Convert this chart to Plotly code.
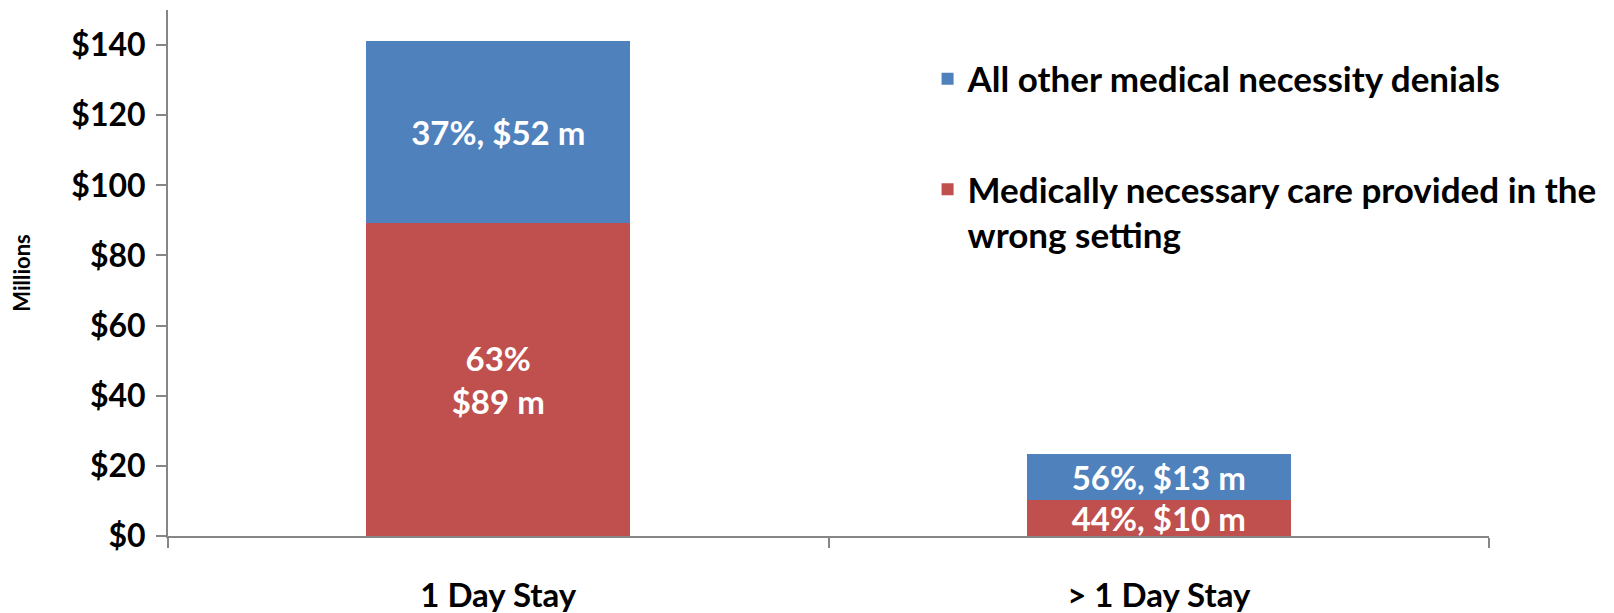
import plotly.graph_objects as go

# Denied claim dollars (millions) by length of stay
categories = ["1 Day Stay", "> 1 Day Stay"]
wrong_setting = [89.3, 10.4]
other_denials = [51.8, 12.9]
wrong_setting_labels = ["63%<br>$89 m", "44%, $10 m"]
other_denials_labels = ["37%, $52 m", "56%, $13 m"]
y_ticks = [0, 20, 40, 60, 80, 100, 120, 140]
y_tick_labels = ["$0", "$20", "$40", "$60", "$80", "$100", "$120", "$140"]

FONT = "Lato"
AXIS_GRAY = "#868686"

fig = go.Figure()

fig.add_trace(go.Bar(
    x=categories,
    y=wrong_setting,
    name="Medically necessary care provided in the<br>wrong setting",
    legendgroup="red",
    legendrank=2,
    marker=dict(color="#C0504D", line=dict(width=0)),
    text=wrong_setting_labels,
    textposition="inside",
    insidetextanchor="middle",
    textangle=0,
    constraintext="none",
    textfont=dict(color="white", size=33, family=FONT, weight="bold"),
    width=0.4,
))

fig.add_trace(go.Bar(
    x=categories,
    y=other_denials,
    name="All other medical necessity denials",
    legendgroup="blue",
    legendrank=1,
    marker=dict(color="#4F81BD", line=dict(width=0)),
    text=other_denials_labels,
    textposition="inside",
    insidetextanchor="middle",
    textangle=0,
    constraintext="none",
    textfont=dict(color="white", size=33, family=FONT, weight="bold"),
    width=0.4,
))

# the page body adds an 8px offset, so the figure is 8px smaller than the window
fig.update_layout(
    barmode="stack",
    width=1606,
    height=605,
    margin=dict(l=160, r=125, t=2, b=77),
    plot_bgcolor="white",
    paper_bgcolor="white",
    font=dict(family=FONT, color="black", weight="bold"),
    showlegend=True,
    legend=dict(
        x=0.575, y=0.925, xanchor="left", yanchor="top",
        traceorder="grouped",
        tracegroupgap=62,
        valign="top",
        font=dict(size=35, family=FONT, weight="bold"),
        bgcolor="rgba(0,0,0,0)",
    ),
)

fig.update_xaxes(
    showline=True, linecolor=AXIS_GRAY, linewidth=2,
    ticks="outside", tickson="boundaries", ticklen=10, tickcolor=AXIS_GRAY, tickwidth=2,
    tickfont=dict(size=33, family=FONT, weight="bold"),
    ticklabelstandoff=29,
    showgrid=False,
    automargin=False,
)

fig.update_yaxes(
    range=[0, 150],
    tickvals=y_ticks,
    ticktext=y_tick_labels,
    showline=True, linecolor=AXIS_GRAY, linewidth=2,
    ticks="outside", ticklen=10, tickcolor=AXIS_GRAY, tickwidth=2,
    tickfont=dict(size=32, family=FONT, weight="bold"),
    ticklabelstandoff=4,
    showgrid=False, zeroline=False,
    automargin=False,
    title=dict(text="Millions", standoff=78, font=dict(size=22, family=FONT, weight="bold")),
)

fig.write_html("out.html")
